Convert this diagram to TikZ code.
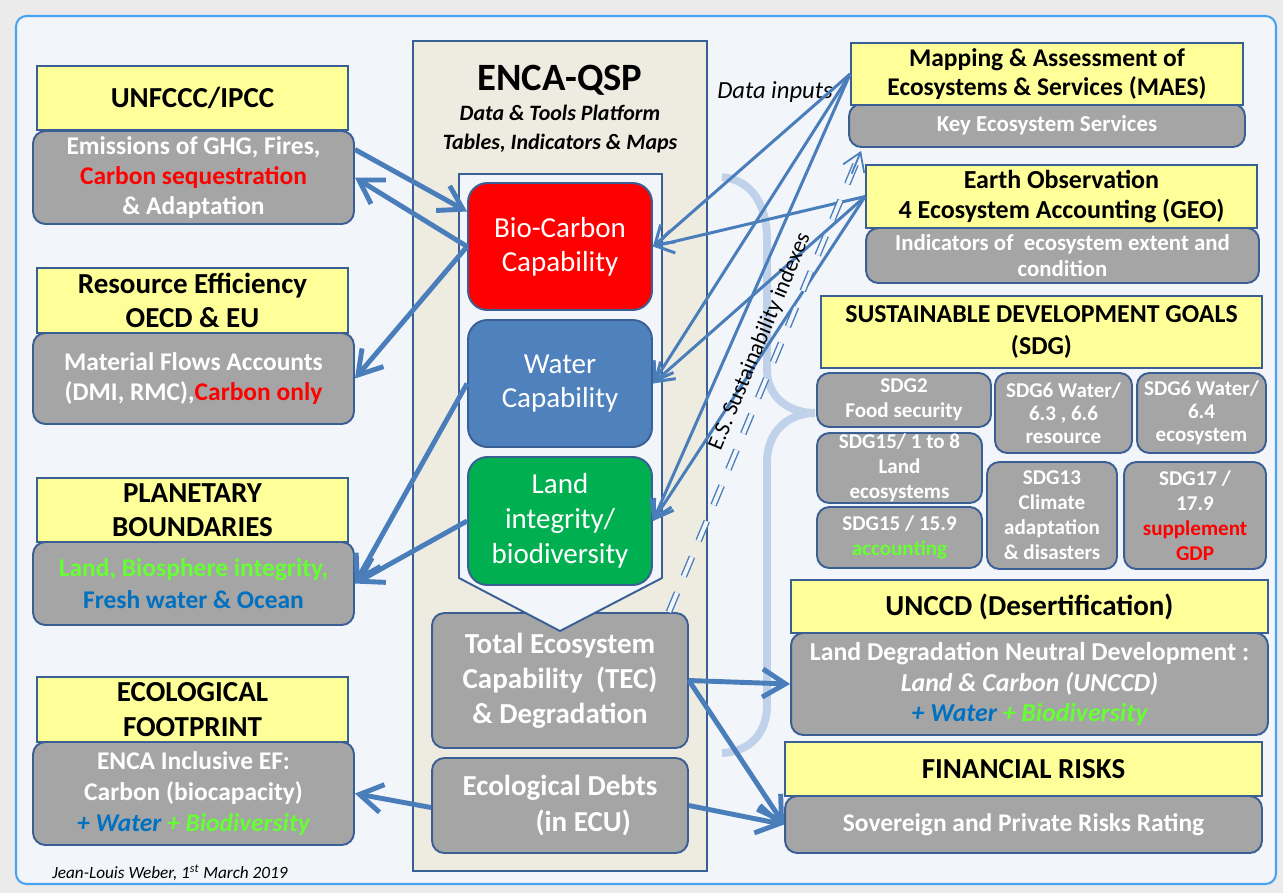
\documentclass[tikz,border=0pt]{standalone}
\usepackage{fontspec}
\setmainfont{Carlito}
\usetikzlibrary{arrows.meta}
\usetikzlibrary{calc}

\definecolor{outerbg}{HTML}{EBEBEB}
\definecolor{frameblue}{HTML}{4AA3F0}
\definecolor{bgframe}{HTML}{F2F5FA}
\definecolor{edgeblue}{HTML}{3A5F95}
\definecolor{hdryellow}{HTML}{FFFF99}
\definecolor{boxgray}{HTML}{A5A5A5}
\definecolor{arrowblue}{HTML}{4A7EBB}
\definecolor{beige}{HTML}{EEECE1}
\definecolor{capred}{HTML}{FF0000}
\definecolor{capblue}{HTML}{4F81BD}
\definecolor{capgreen}{HTML}{00B050}
\definecolor{txtgreen}{HTML}{66FF33}
\definecolor{txtblue}{HTML}{0070C0}
\definecolor{bracelight}{HTML}{B7CDE8}

\begin{document}
\begin{tikzpicture}[
    x=0.02cm, y=-0.02cm,
    every node/.style={align=center, inner sep=0.5pt},
    hdr/.style={draw=edgeblue, line width=1.1pt, fill=hdryellow, font=\fontsize{16.5}{19.5}\selectfont\bfseries},
    info/.style={draw=edgeblue, line width=1.1pt, fill=boxgray, rounded corners=7pt, text=white, font=\fontsize{14.5}{17.2}\selectfont\bfseries},
    sdg/.style={info, font=\fontsize{12}{14.2}\selectfont\bfseries},
    capa/.style={draw=edgeblue, line width=1.1pt, rounded corners=11pt, text=white, minimum width=3.68cm, minimum height=2.54cm, font=\fontsize{16.5}{19.5}\selectfont},
    flow/.style={draw=arrowblue, line width=2.8pt, -{Straight Barb[length=13pt,width=16pt]}},
    feed/.style={draw=arrowblue, line width=1.7pt, -{Straight Barb[length=10pt,width=13pt]}},
    esline/.style={draw=arrowblue, line width=0.8pt, double=bgframe, double distance=2.2pt, dash pattern=on 12pt off 10pt}
]
\useasboundingbox (0,0) rectangle (1283,893);
\fill[outerbg] (0,0) rectangle (1283,893);
\draw[frameblue, fill=bgframe, line width=1.2pt, rounded corners=6pt] (16,16) rectangle (1276,884);

% Centre platform
\node[draw=edgeblue, fill=beige, line width=1.1pt, minimum width=5.88cm, minimum height=16.6cm] (qsp) at (560,456) {};
\node[font=\fontsize{22}{26}\selectfont\bfseries] (title) at (560,80) {ENCA-QSP};
\node[font=\fontsize{12.5}{16}\selectfont\bfseries\itshape] (subtitle) at (560,129) {Data \& Tools Platform\\Tables, Indicators \& Maps};
\node[info, minimum width=5.12cm, minimum height=2.7cm, font=\fontsize{16.5}{20}\selectfont\bfseries] (tec) at (560,680.5) {Total Ecosystem\\Capability~~(TEC)\\\& Degradation};
\node[info, minimum width=5.12cm, minimum height=1.9cm, font=\fontsize{16.5}{20}\selectfont\bfseries] (debt) at (560,805.5) {Ecological Debts\\\hspace*{1.6em}(in ECU)};
\draw[edgeblue, fill=bgframe, line width=1.1pt] (459,174) -- (662,174) -- (662,578) -- (560,631) -- (459,578) -- cycle;
\node[capa, fill=capred] (bio) at (560,246.5) {Bio-Carbon\\Capability};
\node[capa, fill=capblue] (water) at (560,383.5) {Water\\Capability};
\node[capa, fill=capgreen, minimum height=2.56cm, font=\fontsize{16.5}{20}\selectfont] (land) at (560,521) {Land\\integrity/\\biodiversity};

% Left side (conventions)
\node[info, minimum width=6.42cm, minimum height=1.86cm] (uncB) at (193.5,177.5) {Emissions of GHG, Fires,\\\textcolor{capred}{Carbon sequestration}\\\& Adaptation};
\node[hdr, minimum width=6.22cm, minimum height=1.28cm] (uncH) at (192.5,98) {UNFCCC/IPCC};
\node[info, minimum width=6.42cm, minimum height=1.82cm] (reB) at (193.5,378.5) {Material Flows Accounts\\(DMI, RMC),\textcolor{capred}{Carbon only}};
\node[hdr, minimum width=6.22cm, minimum height=1.3cm] (reH) at (192.5,300.5) {Resource Efficiency\\OECD \& EU};
\node[info, minimum width=6.42cm, minimum height=1.66cm, font=\fontsize{14.5}{18}\selectfont\bfseries] (pbB) at (193.5,583.5) {\textcolor{txtgreen}{Land, Biosphere integrity,}\\\textcolor{txtblue}{Fresh water \& Ocean}};
\node[hdr, minimum width=6.22cm, minimum height=1.28cm] (pbH) at (192.5,510) {PLANETARY\\BOUNDARIES};
\node[info, minimum width=6.42cm, minimum height=2.06cm, font=\fontsize{14.5}{17.6}\selectfont\bfseries] (efB) at (193.5,793.5) {ENCA Inclusive EF:\\Carbon (biocapacity)\\\textit{\textcolor{txtblue}{+ Water} \textcolor{txtgreen}{+ Biodiversity}}};
\node[hdr, minimum width=6.22cm, minimum height=1.3cm] (efH) at (192.5,709.5) {ECOLOGICAL\\FOOTPRINT};
\node[font=\fontsize{9.8}{12}\selectfont\itshape] (author) at (170,873) {Jean-Louis Weber, 1\textsuperscript{st} March 2019};

% Right side (data sources and goals)
\node[info, minimum width=7.92cm, minimum height=0.86cm, font=\fontsize{13}{15}\selectfont\bfseries] (maesB) at (1047,125.5) {Key Ecosystem Services};
\node[hdr, minimum width=7.84cm, minimum height=1.24cm, font=\fontsize{14.5}{16.5}\selectfont\bfseries] (maesH) at (1047,74) {Mapping \& Assessment of\\Ecosystems \& Services (MAES)};
\node[info, minimum width=7.86cm, minimum height=1.1cm, font=\fontsize{13}{15}\selectfont\bfseries] (geoB) at (1062.5,255.5) {Indicators of~~ecosystem extent and\\condition};
\node[hdr, minimum width=7.82cm, minimum height=1.26cm, font=\fontsize{14.8}{17}\selectfont\bfseries] (geoH) at (1061.5,196.5) {Earth Observation\\4 Ecosystem Accounting (GEO)};
\node[hdr, minimum width=8.82cm, minimum height=1.44cm, font=\fontsize{14.7}{18}\selectfont\bfseries] (sdgH) at (1041.5,332) {SUSTAINABLE DEVELOPMENT GOALS\\(SDG)};
\node[sdg, minimum width=3.48cm, minimum height=1.08cm] (sdgA) at (904,400) {SDG2\\Food security};
\node[sdg, minimum width=3.3cm, minimum height=1.4cm] (sdgB) at (899.5,468) {SDG15/ 1 to 8\\Land\\ecosystems};
\node[sdg, minimum width=3.3cm, minimum height=1.22cm] (sdgC) at (899.5,537.5) {SDG15 / 15.9\\\textcolor{txtgreen}{accounting}};
\node[sdg, minimum width=2.74cm, minimum height=1.6cm, font=\fontsize{12}{13.2}\selectfont\bfseries] (sdgD) at (1063.5,413) {SDG6 Water/\\6.3 , 6.6\\resource};
\node[sdg, minimum width=2.58cm, minimum height=1.6cm, font=\fontsize{12}{13.2}\selectfont\bfseries] (sdgE) at (1201.5,413) {SDG6 Water/\\6.4\\ecosystem};
\node[sdg, minimum width=2.6cm, minimum height=2.14cm] (sdgF) at (1052,515.5) {SDG13\\Climate\\adaptation\\\& disasters};
\node[sdg, minimum width=2.84cm, minimum height=2.14cm] (sdgG) at (1195,515.5) {SDG17 /\\17.9\\\textcolor{capred}{supplement}\\\textcolor{capred}{GDP}};
\node[info, minimum width=9.54cm, minimum height=2.04cm, font=\fontsize{14.7}{17.6}\selectfont\bfseries] (unccdB) at (1029.5,684) {Land Degradation Neutral Development :\\\textit{Land \& Carbon (UNCCD)}\\\textit{\textcolor{txtblue}{+ Water} \textcolor{txtgreen}{+ Biodiversity}}};
\node[hdr, minimum width=9.54cm, minimum height=1.06cm] (unccdH) at (1029.5,606.5) {UNCCD (Desertification)};
\node[info, minimum width=9.54cm, minimum height=1.14cm] (finB) at (1023.5,824.5) {Sovereign and Private Risks Rating};
\node[hdr, minimum width=9.54cm, minimum height=1.08cm] (finH) at (1023.5,769) {FINANCIAL RISKS};

% Brace towards the goals
\draw[bracelight, line width=4.5pt, opacity=0.85] (722,177) .. controls (752,180) and (767,205) .. (767,240) -- (767,370) .. controls (767,398) and (790,413) .. (815,413) .. controls (790,413) and (767,430) .. (767,462) -- (767,705) .. controls (767,735) and (748,752) .. (722,753);

% Data inputs
\node[font=\fontsize{14}{16}\selectfont\itshape] (inputs) at (775,92) {Data inputs};
\draw[feed] (maesH.west) -- (bio.east);
\draw[feed] (maesH.west) -- (water.east);
\draw[feed] (maesH.west) -- (land.east);
\draw[feed] (geoH.west) -- (bio.east);
\draw[feed] (geoH.west) -- (water.east);
\draw[feed] (geoH.west) -- (land.east);

% Sustainability indexes back to MAES
\coordinate (esA) at ($(tec.north east)+(-20,0)$);
\coordinate (esB) at ($(maesB.south west)+(13,3)$);
\draw[esline] (esA) -- node[pos=0.57, sloped, above=5pt, font=\fontsize{12.8}{14}\selectfont, text=black] (esText) {E.S. Sustainability indexes} (esB);
\draw[feed, line width=1pt] ($(esB)!14pt!(esA)$) -- (esB);

% Flows to the conventions
\draw[flow] ($(uncB.east)+(0,-28)$) -- ($(bio.west)+(0,-35)$);
\draw[flow] (bio.west) -- (uncB.east);
\draw[flow] (bio.west) -- (reB.east);
\draw[flow] (water.west) -- (pbB.east);
\draw[flow] (land.west) -- (pbB.east);
\draw[flow] ($(debt.west)+(0,2)$) -- (efB.east);
\draw[flow] (tec.east) -- (unccdB.west);
\draw[flow] (tec.east) -- (finB.west);
\draw[flow] (debt.east) -- (finB.west);

\end{tikzpicture}
\end{document}
